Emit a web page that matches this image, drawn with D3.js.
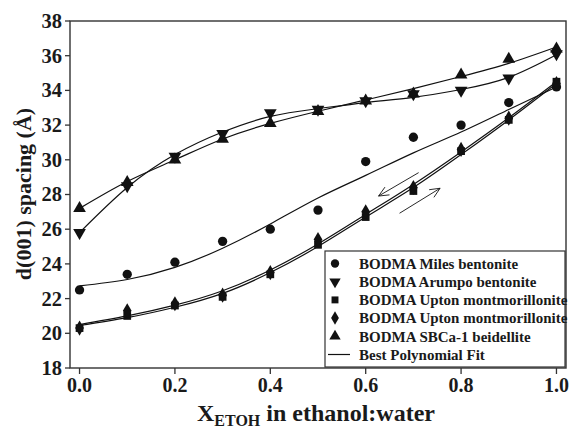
<!DOCTYPE html>
<html><head><meta charset="utf-8">
<script src="https://cdn.jsdelivr.net/npm/d3@7"></script>
<style>body{margin:0;background:#fff}svg{display:block}svg text{font-family:'Liberation Serif',Tinos,'Times New Roman',serif !important;font-weight:bold}</style>
</head><body><svg id="c" width="571" height="430"></svg>
<script>
const xs = [0.0,0.1,0.2,0.3,0.4,0.5,0.6,0.7,0.8,0.9,1.0];
const xTicks = [0.0,0.2,0.4,0.6,0.8,1.0];
const yTicks = [18,20,22,24,26,28,30,32,34,36,38];

const milesPts   = [22.5,23.4,24.1,25.3,26.0,27.1,29.9,31.3,32.0,33.3,34.2];
const arumpoPts  = [25.8,28.5,30.2,31.5,32.7,32.9,33.4,33.8,34.0,34.7,36.1];
const uptonSqPts = [20.3,21.0,21.6,22.1,23.4,25.1,26.7,28.2,30.5,32.3,34.5];
const uptonDmPts = [20.3,21.3,21.7,22.2,23.5,25.4,27.0,28.4,30.6,32.4,34.4];
const sbcaPts    = [27.2,28.7,30.0,31.2,32.1,32.8,33.4,33.8,34.9,35.8,36.4];

const milesFit   = [22.73,23.1,23.8,24.9,26.3,27.8,29.1,30.4,31.6,32.9,34.2];
const arumpoFit  = [25.8,28.4,30.3,31.6,32.5,32.95,33.3,33.6,34.05,34.75,36.05];
const uptonSqFit = [20.45,20.9,21.5,22.3,23.5,25.0,26.7,28.4,30.3,32.3,34.4];
const uptonDmFit = [20.5,21.0,21.62,22.45,23.65,25.15,26.85,28.58,30.45,32.42,34.5];
const sbcaFit    = [27.2,28.75,30.0,31.2,32.1,32.8,33.45,34.1,34.8,35.56,36.5];

const legendLabels = ["BODMA Miles bentonite","BODMA Arumpo bentonite","BODMA Upton montmorillonite","BODMA Upton montmorillonite","BODMA SBCa-1 beidellite","Best Polynomial Fit"];
const arrows = [
  {x1:0.711,y1:29.26,x2:0.627,y2:27.91},
  {x1:0.671,y1:26.92,x2:0.756,y2:28.36}
];

const svg = d3.select("#c");
const L=70,R=566,T=21,B=368;
const x = d3.scaleLinear().domain([-0.02,1.02]).range([L,R]);
const y = d3.scaleLinear().domain([18,38]).range([B,T]);
const ink="#111";
function txt(sel){return sel.append("text").style("font-family","'Liberation Serif', serif").style("font-weight","bold").attr("fill","#1a1a1a");}

const series = [
  {pts:milesPts, fit:milesFit, sym:d3.symbolCircle, size:68, rot:0},
  {pts:arumpoPts, fit:arumpoFit, sym:d3.symbolTriangle, size:70, rot:180},
  {pts:uptonSqPts, fit:uptonSqFit, sym:d3.symbolSquare, size:60, rot:0},
  {pts:uptonDmPts, fit:uptonDmFit, sym:d3.symbolDiamond, size:66, rot:0},
  {pts:sbcaPts, fit:sbcaFit, sym:d3.symbolTriangle, size:70, rot:0}
];

const line = d3.line().x((d,i)=>x(xs[i])).y(d=>y(d)).curve(d3.curveNatural);
const g = svg.append("g");
series.forEach(s=>{
  g.append("path").attr("d",line(s.fit)).attr("fill","none").attr("stroke",ink).attr("stroke-width",1.2);
});
series.forEach(s=>{
  g.selectAll(null).data(s.pts).enter().append("path")
    .attr("d",d3.symbol().type(s.sym).size(s.size))
    .attr("transform",(d,i)=>`translate(${x(xs[i])},${y(d)}) rotate(${s.rot})`)
    .attr("fill",ink);
});

// arrows
arrows.forEach(a=>{
  const x1=x(a.x1),y1=y(a.y1),x2=x(a.x2),y2=y(a.y2);
  g.append("line").attr("x1",x1).attr("y1",y1).attr("x2",x2).attr("y2",y2).attr("stroke",ink).attr("stroke-width",0.9);
  const ang=Math.atan2(y1-y2,x1-x2), hl=11, ha=0.42;
  [ang+ha,ang-ha].forEach(t=>{
    g.append("line").attr("x1",x2).attr("y1",y2).attr("x2",x2+hl*Math.cos(t)).attr("y2",y2+hl*Math.sin(t)).attr("stroke",ink).attr("stroke-width",0.9);
  });
});

// frame
svg.append("rect").attr("x",L).attr("y",T).attr("width",R-L).attr("height",B-T).attr("fill","none").attr("stroke","#333").attr("stroke-width",1.4);

// y ticks
yTicks.forEach(v=>{
  svg.append("line").attr("x1",L-5).attr("x2",L).attr("y1",y(v)).attr("y2",y(v)).attr("stroke","#333").attr("stroke-width",1.3);
  txt(svg).attr("x",62).attr("y",y(v)).attr("dy","0.34em").attr("text-anchor","end").attr("font-size",20.5).text(v);
});
// x ticks
xTicks.forEach(v=>{
  svg.append("line").attr("x1",x(v)).attr("x2",x(v)).attr("y1",B).attr("y2",B+6).attr("stroke","#333").attr("stroke-width",1.3);
  txt(svg).attr("x",x(v)).attr("y",392).attr("text-anchor","middle").attr("font-size",20).text(d3.format(".1f")(v));
});

// axis titles
txt(svg).attr("transform","translate(31,194) rotate(-90)").attr("text-anchor","middle").attr("font-size",22).text("d(001) spacing (Å)");
const xt = txt(svg).attr("x",316).attr("y",421).attr("text-anchor","middle").attr("font-size",24);
xt.append("tspan").text("X");
xt.append("tspan").attr("font-size",16).attr("dy",5).text("ETOH");
xt.append("tspan").attr("dy",-5).text(" in ethanol:water");

// legend
const lg = svg.append("g");
lg.append("rect").attr("x",325).attr("y",251).attr("width",240).attr("height",116).attr("fill","#fff").attr("stroke","#333").attr("stroke-width",1.2);
legendLabels.forEach((t,i)=>{
  const cy = 263.5 + i*18.2;
  if(i<5){
    const s=series[i];
    lg.append("path").attr("d",d3.symbol().type(s.sym).size(s.size*0.8)).attr("transform",`translate(335,${cy}) rotate(${s.rot})`).attr("fill",ink);
  } else {
    lg.append("line").attr("x1",328).attr("x2",350).attr("y1",cy).attr("y2",cy).attr("stroke",ink).attr("stroke-width",1.2);
  }
  txt(lg).attr("x",359).attr("y",cy).attr("dy","0.35em").attr("font-size",15).text(t);
});
</script></body></html>
